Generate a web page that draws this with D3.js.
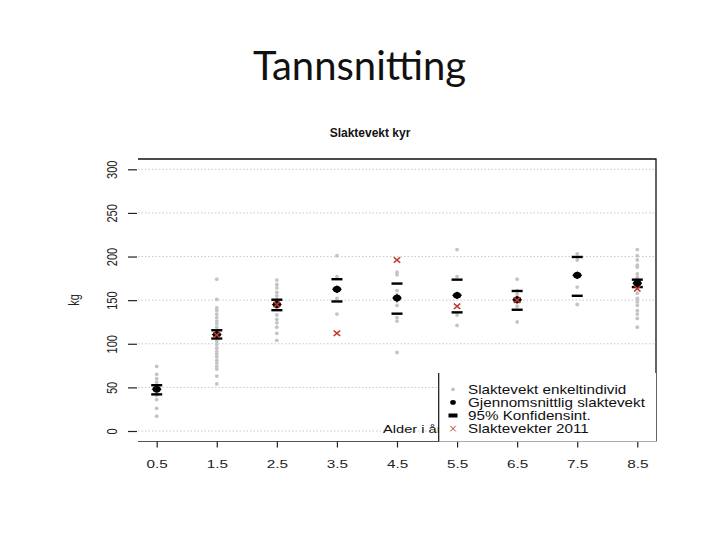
<!DOCTYPE html>
<html>
<head>
<meta charset="utf-8">
<script src="https://cdn.jsdelivr.net/npm/d3@7"></script>
<style>
  body { margin: 0; background: #fff; }
  svg { display: block; }
</style>
</head>
<body>
<svg id="viz" width="720" height="540"></svg>
<script>
/* Data */

const ages = [0.5, 1.5, 2.5, 3.5, 4.5, 5.5, 6.5, 7.5, 8.5];

// single animals per age class
const individuals = [
  [74, 65, 60, 56, 52, 49, 46, 44, 41, 36, 26, 17],
  [174, 151, 141, 138, 134, 130, 126, 123, 119, 114, 112, 108, 103, 99, 95, 91, 88, 85, 81, 78, 74, 71, 63, 54],
  [173, 168, 164, 159, 155, 151, 148, 140, 133, 128, 124, 119, 112, 104],
  [201, 177, 152, 134],
  [182, 179, 161, 156, 149, 144, 130, 126, 90],
  [208, 177, 156, 133, 121],
  [174, 161, 157, 148, 143, 125],
  [203, 196, 165, 145],
  [208, 201, 196, 190, 188, 180, 176, 168, 158, 152, 148, 144, 138, 134, 129, 119]
];

const means = [48, 110.5, 145, 162.5, 152.5, 155.5, 150.5, 178.5, 169.5];
const ciLow = [42, 106, 138.5, 148.5, 134.5, 136, 139, 155, 165];
const ciHigh = [52.5, 115.5, 150.5, 174, 169, 173.5, 160.5, 199.5, 173.5];

// 2011 weights (none shown for 0.5 and 7.5)
const weights2011 = [null, 110, 145, 112, 196, 143, 150, null, 163];

const yTicks = [0, 50, 100, 150, 200, 250, 300];

const legendLabels = [
  'Slaktevekt enkeltindivid',
  'Gjennomsnittlig slaktevekt',
  '95% Konfidensint.',
  'Slaktevekter 2011'
];

/* Visualization */

const svg = d3.select('#viz');
const stretch = 'scale(1.33,1)';

const plotLeft = 138;
const plotRight = 656;
const plotTop = 159;
const plotBottom = 441.5;

const x = d3.scaleLinear().domain([0.5, 8.5]).range([156.7, 637.3]);
const y = d3.scaleLinear().domain([0, 300]).range([431, 169.3]);

// slide title
svg.append('text')
  .attr('x', 359.5)
  .attr('y', 80)
  .attr('text-anchor', 'middle')
  .attr('font-family', 'Lato, "Open Sans", sans-serif')
  .attr('font-size', 40)
  .attr('fill', '#111')
  .text('Tannsnitting');

// chart title
svg.append('text')
  .attr('x', 370)
  .attr('y', 137)
  .attr('text-anchor', 'middle')
  .attr('font-family', '"Liberation Sans", Arial, sans-serif')
  .attr('font-weight', 'bold')
  .attr('font-size', 12)
  .attr('fill', '#111')
  .text('Slaktevekt kyr');

// grid
svg.append('g')
  .selectAll('line')
  .data(yTicks)
  .join('line')
  .attr('x1', plotLeft)
  .attr('x2', plotRight)
  .attr('y1', (d) => y(d))
  .attr('y2', (d) => y(d))
  .attr('stroke', '#bbb')
  .attr('stroke-width', 0.8)
  .attr('stroke-dasharray', '1.5,2');

// frame (top + right)
svg.append('path')
  .attr('d', `M${plotLeft},${plotTop}H${plotRight}V${plotBottom}`)
  .attr('fill', 'none')
  .attr('stroke', '#111')
  .attr('stroke-width', 1.3);

// x axis
svg.append('line')
  .attr('x1', plotLeft)
  .attr('x2', plotRight)
  .attr('y1', plotBottom)
  .attr('y2', plotBottom)
  .attr('stroke', '#555')
  .attr('stroke-width', 1.2);

const xAxis = svg.append('g')
  .attr('transform', `translate(0,${plotBottom})`)
  .call(d3.axisBottom(x).tickValues(ages).tickFormat(d3.format('.1f')).tickSize(6));
xAxis.select('.domain').remove();
xAxis.selectAll('line').attr('stroke', '#222').attr('stroke-width', 1.2);
xAxis.selectAll('text')
  .attr('y', null)
  .attr('dy', null)
  .attr('transform', `translate(0,26) ${stretch}`)
  .attr('font-family', '"Liberation Sans", Arial, sans-serif')
  .attr('font-size', 11.5)
  .attr('fill', '#222');

// y axis
const yAxis = svg.append('g')
  .attr('transform', 'translate(137,0)')
  .call(d3.axisLeft(y).tickValues(yTicks).tickSize(9));
yAxis.select('.domain').remove();
yAxis.selectAll('line').attr('stroke', '#222').attr('stroke-width', 1.2);
yAxis.selectAll('text')
  .attr('x', null)
  .attr('dy', '0.36em')
  .attr('text-anchor', 'middle')
  .attr('transform', `translate(-25,0) ${stretch} rotate(-90)`)
  .attr('font-family', '"Liberation Sans", Arial, sans-serif')
  .attr('font-size', 11)
  .attr('fill', '#222');

// axis titles
svg.append('text')
  .attr('transform', `translate(79,300) ${stretch} rotate(-90)`)
  .attr('text-anchor', 'middle')
  .attr('font-family', '"Liberation Sans", Arial, sans-serif')
  .attr('font-size', 11)
  .attr('fill', '#222')
  .text('kg');

svg.append('text')
  .attr('transform', `translate(383,433) ${stretch}`)
  .attr('font-family', '"Liberation Sans", Arial, sans-serif')
  .attr('font-size', 11)
  .attr('fill', '#111')
  .text('Alder i år');

// single animals
const pts = ages.flatMap((a, i) => individuals[i].map((v) => ({ age: a, value: v })));
svg.append('g')
  .selectAll('circle')
  .data(pts)
  .join('circle')
  .attr('cx', (d) => x(d.age))
  .attr('cy', (d) => y(d.value))
  .attr('r', 1.9)
  .attr('fill', '#c4c4c4');

// confidence bars
const ciData = ages.flatMap((a, i) => [
  { age: a, value: ciLow[i] },
  { age: a, value: ciHigh[i] }
]);
svg.append('g')
  .selectAll('line')
  .data(ciData)
  .join('line')
  .attr('x1', (d) => x(d.age) - 5.5)
  .attr('x2', (d) => x(d.age) + 5.5)
  .attr('y1', (d) => y(d.value))
  .attr('y2', (d) => y(d.value))
  .attr('stroke', '#000')
  .attr('stroke-width', 2.4);

// means: filled blob, wider than tall
const diamond = d3.symbol().type(d3.symbolDiamond).size(18);
const meanMark = (sel) => {
  sel.append('ellipse').attr('rx', 4).attr('ry', 3.2).attr('fill', '#000');
  sel.append('path').attr('d', diamond).attr('transform', 'scale(2.2,1)').attr('fill', '#000');
};
svg.append('g')
  .selectAll('g')
  .data(ages.map((a, i) => ({ age: a, value: means[i] })))
  .join('g')
  .attr('transform', (d) => `translate(${x(d.age)},${y(d.value)})`)
  .call(meanMark);

// 2011 weights
const cross = d3.symbol().type(d3.symbolX).size(22);
svg.append('g')
  .selectAll('path')
  .data(ages.map((a, i) => ({ age: a, value: weights2011[i] })).filter((d) => d.value !== null))
  .join('path')
  .attr('transform', (d) => `translate(${x(d.age)},${y(d.value)}) scale(1.15,1)`)
  .attr('d', cross)
  .attr('fill', 'none')
  .attr('stroke', '#c0392b')
  .attr('stroke-width', 1.4);

// legend
const legend = svg.append('g');
legend.append('rect')
  .attr('x', 438.7)
  .attr('y', 373)
  .attr('width', plotRight - 438.7)
  .attr('height', plotBottom - 373)
  .attr('fill', '#fff');
legend.append('line')
  .attr('x1', 438.7)
  .attr('x2', 438.7)
  .attr('y1', 373)
  .attr('y2', plotBottom)
  .attr('stroke', '#111')
  .attr('stroke-width', 1.2);

const rows = legend.selectAll('g')
  .data(legendLabels)
  .join('g')
  .attr('transform', (_, i) => `translate(453,${389.3 + i * 13.1})`);

rows.append('text')
  .attr('transform', 'translate(15,4.2) scale(1.27,1)')
  .attr('font-family', '"Liberation Sans", Arial, sans-serif')
  .attr('font-size', 12)
  .attr('fill', '#111')
  .text((d) => d);

rows.filter((_, i) => i === 0).append('circle').attr('r', 1.9).attr('fill', '#c4c4c4');
rows.filter((_, i) => i === 1).append('ellipse').attr('rx', 2.8).attr('ry', 2.3).attr('fill', '#000');
rows.filter((_, i) => i === 2).append('rect').attr('x', -4.5).attr('y', -2).attr('width', 9).attr('height', 4).attr('fill', '#000');
rows.filter((_, i) => i === 3).append('path').attr('d', cross).attr('fill', 'none').attr('stroke', '#c0392b').attr('stroke-width', 1);
</script>
</body>
</html>
